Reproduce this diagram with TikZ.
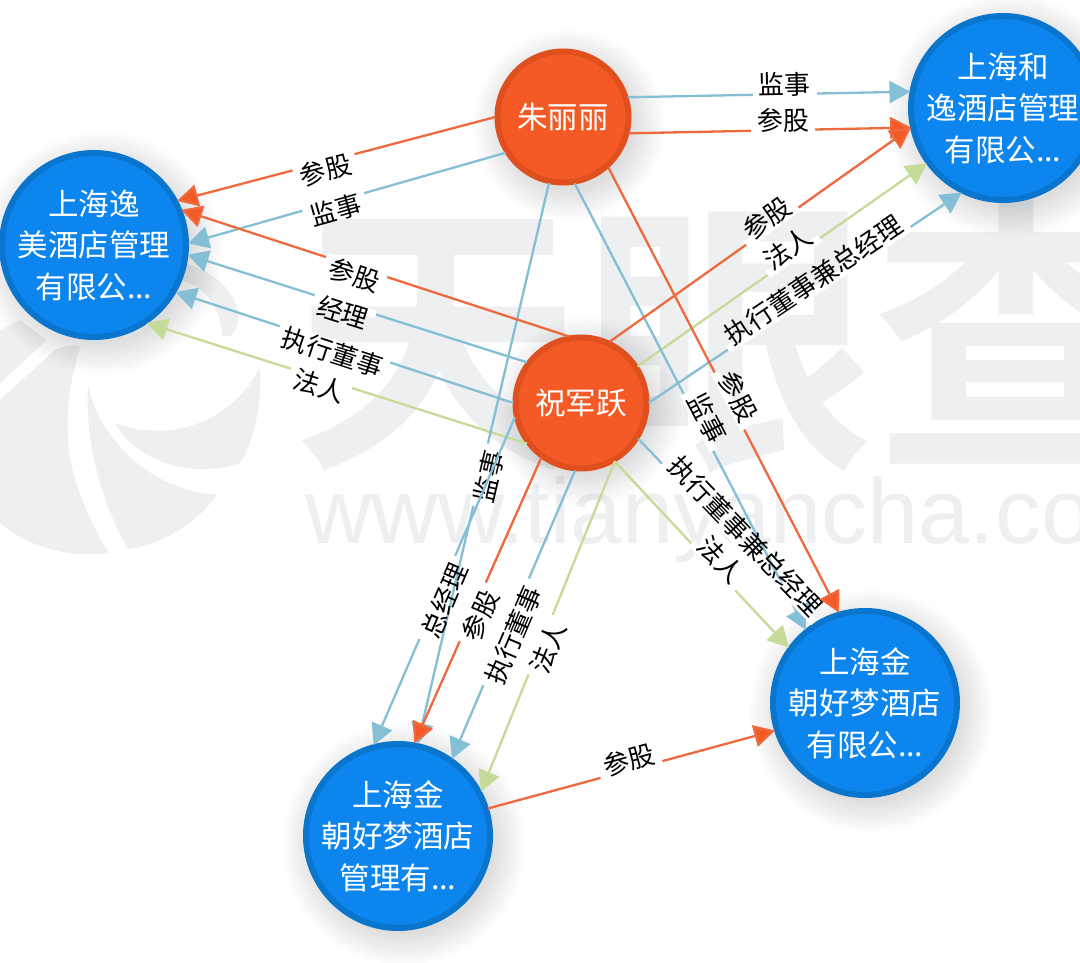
\documentclass[tikz,border=0pt]{standalone}
\usepackage{fontspec}
\usetikzlibrary{arrows.meta}
\setmainfont{Noto Sans CJK SC}
\newfontfamily\wmcjk{Noto Sans CJK SC Bold}
\newfontfamily\wmlat{Liberation Sans}
\definecolor{orgfill}{HTML}{F45A26}
\definecolor{orgline}{HTML}{E0501F}
\definecolor{bluefill}{HTML}{0C86EE}
\definecolor{blueline}{HTML}{0A75CC}
\definecolor{redge}{HTML}{EE6A3E}
\definecolor{bedge}{HTML}{85BFD6}
\definecolor{gedge}{HTML}{C6DB98}
\definecolor{wm}{HTML}{EEEFF1}
\tikzset{
  x=1pt,y=-1pt,
  org/.style={circle,fill=orgfill,draw=orgline,line width=6pt,minimum size=131pt,inner sep=0pt,outer sep=2pt,text=white,align=center,font=\fontsize{30.5}{41.5}\selectfont},
  comp/.style={circle,fill=bluefill,draw=blueline,line width=6pt,minimum size=184pt,inner sep=-14pt,outer sep=2pt,text=white,align=center,font=\fontsize{30.5}{41.5}\selectfont},
  lnk/.style={line width=2.3pt,-{Triangle[length=21pt,width=22pt]}},
  rl/.style={lnk,draw=redge,-{Triangle[length=21pt,width=22pt,fill=orgfill]}},
  bl/.style={lnk,draw=bedge},
  gl/.style={lnk,draw=gedge},
  lab/.style={fill=white,inner xsep=6pt,inner ysep=0pt,minimum height=8pt,text=black,sloped,font=\fontsize{26}{26}\selectfont},
  shad/.style={fill=black,opacity=0.012}
}
% text on the left of the direction of travel: above the line when heading right, below it when heading left
\newcommand{\la}[1]{\raisebox{0pt}[0pt][0pt]{#1}}
\newcommand{\lb}[1]{\raisebox{-18pt}[0pt][0pt]{#1}}
\newcommand{\softshadow}[3]{%
  \foreach \d in {0,3,...,30}{\fill[shad] (#1+6,#2+8) circle[radius=#3+\d-4];}%
}
\begin{document}
\begin{tikzpicture}
\useasboundingbox (0,0) rectangle (1080,963);
\clip (0,0) rectangle (1080,963);
\fill[white] (0,0) rectangle (1080,963);
% watermark
\node[anchor=center,text=wm,inner sep=0pt,font=\wmcjk\fontsize{290}{290}\selectfont] (wmcn) at (728,337) {天眼查};
\node[anchor=west,text=wm,inner sep=0pt,font=\wmlat\fontsize{92}{92}\selectfont] (wmen) at (305,520) {www.tianyancha.com};
% logo pieces
\fill[wm] (0,400) -- (55,350) .. controls (65,345) and (75,345) .. (80,347) .. controls (70,380) and (66,410) .. (68,440) .. controls (70,480) and (90,520) .. (108,553) .. controls (70,558) and (30,548) .. (0,523) -- cycle;
\fill[wm] (88,385) .. controls (100,440) and (150,490) .. (217,495) .. controls (195,525) and (160,545) .. (128,549) .. controls (100,500) and (85,440) .. (88,385) -- cycle;
\fill[wm] (115,423) .. controls (170,445) and (235,420) .. (260,367) .. controls (262,400) and (255,440) .. (240,463) .. controls (190,480) and (135,460) .. (115,423) -- cycle;
\fill[wm] (180,262) .. controls (215,270) and (240,295) .. (238,320) .. controls (237,330) and (232,340) .. (222,335) .. controls (222,310) and (205,285) .. (180,280) -- cycle;
\fill[wm] (0,383) -- (47,340) -- (20,320) -- (0,330) -- cycle;
% soft shadows
\softshadow{563}{117}{69}
\softshadow{581}{403}{68}
\softshadow{95}{245}{95}
\softshadow{1003}{108}{95}
\softshadow{865}{703}{95}
\softshadow{398}{836}{95}
% nodes
\node[org] (zhu) at (563,117) {朱丽丽};
\node[org] (jun) at (581,403) {祝军跃};
\node[comp] (yimei) at (94,245) {上海逸\\美酒店管理\\有限公...};
\node[comp] (heyi) at (1003,108) {上海和\\逸酒店管理\\有限公...};
\node[comp] (jh) at (865,703) {上海金\\朝好梦酒店\\有限公...};
\node[comp] (jm) at (398,836) {上海金\\朝好梦酒店\\管理有...};
% connectors
\draw[gl] (jun.33.5) -- node[lab,pos=.54]{\la{法人}} (heyi.216);
\draw[gl] (jun.217) -- node[lab,pos=.54]{\lb{法人}} (yimei.-56);
\draw[gl] (jun.-60) -- node[lab,pos=.565]{\la{法人}} (jh.144);
\draw[gl] (jun.-60) -- node[lab,pos=.555]{\lb{法人}} (jm.28);
\draw[bl] (zhu.17) -- node[lab,pos=.556]{\la{监事}} (heyi.170);
\draw[bl] (zhu.212) -- node[lab,pos=.543]{\lb{监事}} (yimei.1);
\draw[bl] (zhu.-80) -- node[lab,pos=.535]{\la{监事}} (jh.129);
\draw[bl] (zhu.258) -- node[lab,pos=.52]{\lb{监事}} (jm.78);
\draw[bl] (jun.143) -- node[lab,pos=.535]{\lb{经理}} (yimei.-6);
\draw[bl] (jun.180) -- node[lab,pos=.528]{\lb{执行董事}} (yimei.-30);
\draw[bl] (jun.0) -- node[lab,pos=.545]{\la{执行董事兼总经理}} (heyi.244);
\draw[bl] (jun.-32) -- node[lab,pos=.565]{\la{执行董事兼总经理}} (jh.122);
\draw[bl] (jun.265) -- node[lab,pos=.56]{\lb{执行董事}} (jm.55);
\draw[bl] (jun.192) -- node[lab,pos=.55]{\lb{总经理}} (jm.105);
\draw[rl] (zhu.180) -- node[lab,pos=.54]{\lb{参股}} (yimei.28);
\draw[rl] (zhu.-14) -- node[lab,pos=.547]{\la{参股}} (heyi.192);
\draw[rl] (zhu.-48) -- node[lab,pos=.525]{\la{参股}} (jh.106.5);
\draw[rl] (jun.100) -- node[lab,pos=.548]{\lb{参股}} (yimei.22);
\draw[rl] (jun.65) -- node[lab,pos=.54]{\la{参股}} (heyi.192);
\draw[rl] (jun.234) -- node[lab,pos=.54]{\lb{参股}} (jm.80);
\draw[rl] (jm.17) -- node[lab,pos=.5]{\la{参股}} (jh.197);
\end{tikzpicture}
\end{document}
